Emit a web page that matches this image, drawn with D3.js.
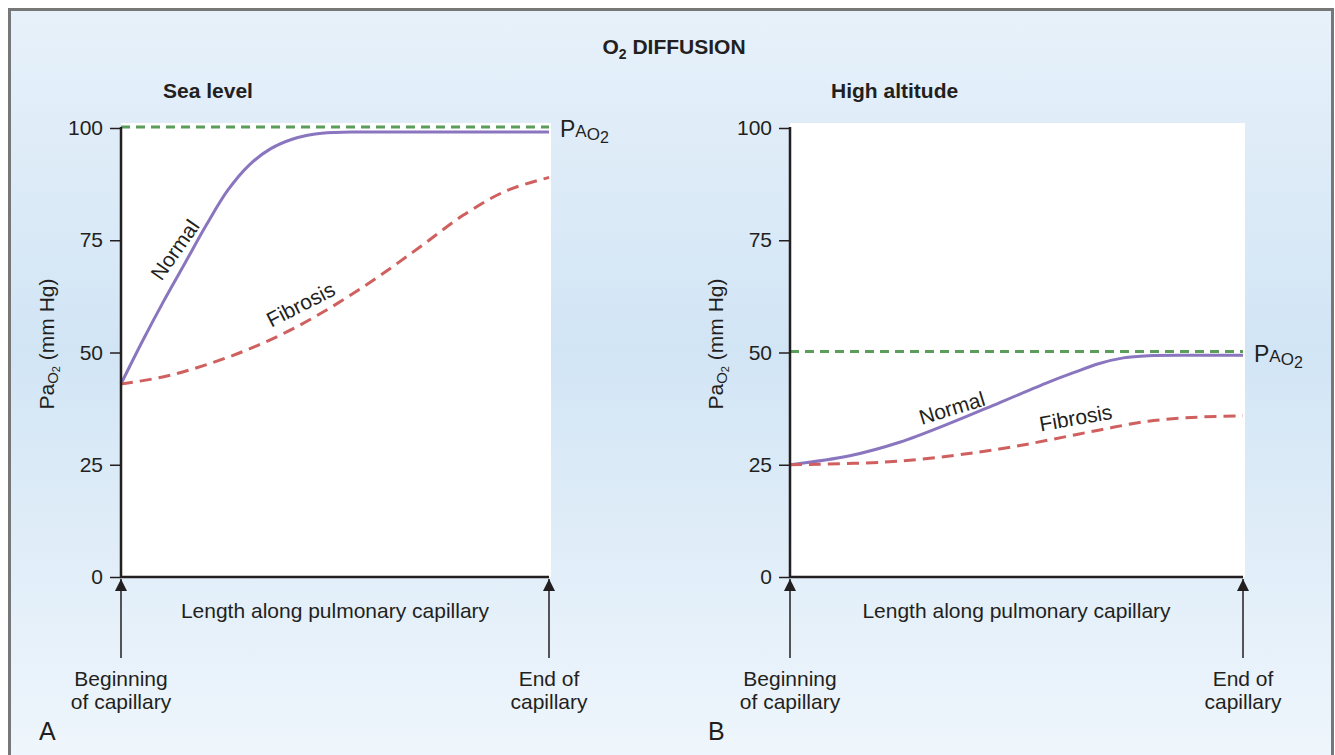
<!DOCTYPE html>
<html><head><meta charset="utf-8">
<script src="https://cdn.jsdelivr.net/npm/d3@7"></script>
<style>body{margin:0;background:#fff}svg{display:block;font-family:"Liberation Sans",Arial,sans-serif}</style>
</head><body>
<svg id="c" width="1335" height="755"></svg>
<script>
const yTicks = [0, 25, 50, 75, 100];
const seaX = [0, 0.05, 0.1, 0.15, 0.2, 0.25, 0.3, 0.35, 0.4, 0.45, 0.5, 0.55, 0.7, 0.85, 1.0];
const seaNormal = [43, 52.5, 61.5, 70, 78.5, 86.2, 91.8, 95.4, 97.5, 98.6, 99.0, 99.1, 99.1, 99.1, 99.1];
const fibX = [0, 0.1, 0.2, 0.3, 0.4, 0.5, 0.6, 0.7, 0.8, 0.9, 1.0];
const seaFibrosis = [43, 44.6, 47.3, 50.8, 55.2, 60.6, 66.8, 73.6, 80.6, 86, 89];
const altX = [0, 0.132, 0.242, 0.352, 0.462, 0.571, 0.626, 0.681, 0.736, 0.791, 0.9, 1.0];
const altNormal = [25, 27, 30, 34.2, 38.8, 43.4, 45.5, 47.5, 48.8, 49.3, 49.4, 49.4];
const altFibX = [0, 0.242, 0.462, 0.571, 0.681, 0.791, 0.9, 1.0];
const altFibrosis = [25, 25.8, 28.5, 30.5, 32.7, 34.7, 35.6, 35.9];
const seaAlveolar = 100, altAlveolar = 50;

const svg = d3.select("#c");
const defs = svg.append("defs");
const g = defs.append("linearGradient").attr("id","bg").attr("x1",0).attr("y1",0).attr("x2",0).attr("y2",1);
g.append("stop").attr("offset","0%").attr("stop-color","#e7f1fa");
g.append("stop").attr("offset","45%").attr("stop-color","#d2e5f5");
g.append("stop").attr("offset","100%").attr("stop-color","#eff6fc");
defs.append("marker").attr("id","arr").attr("viewBox","0 0 10 10").attr("refX",10).attr("refY",5)
  .attr("markerWidth",12).attr("markerHeight",12).attr("markerUnits","userSpaceOnUse").attr("orient","auto")
  .append("path").attr("d","M0,0L10,5L0,10Z").attr("fill","#231f20");

svg.append("rect").attr("x",9.5).attr("y",9.5).attr("width",1323).attr("height",750)
  .attr("fill","url(#bg)").attr("stroke","#777").attr("stroke-width",3);

const FS = 21;
svg.append("text").attr("x",674).attr("y",54).attr("text-anchor","middle").attr("font-weight","bold")
  .attr("font-size",FS).attr("fill","#231f20")
  .call(t=>{t.append("tspan").text("O");t.append("tspan").attr("font-size",14).attr("dy",5).text("2");
    t.append("tspan").attr("dy",-5).text(" DIFFUSION");});

function panel(x0, x1, title, titleX, normalX, normal, fX, fib, alv, letter, labels) {
  const y = d3.scaleLinear().domain([0,100]).range([577,128]);
  const x = d3.scaleLinear().domain([0,1]).range([x0,x1]);
  svg.append("rect").attr("x",x0).attr("y",123).attr("width",x1-x0+2).attr("height",577-123).attr("fill","#fff");
  svg.append("text").attr("x",titleX).attr("y",98).attr("font-weight","bold").attr("font-size",FS).attr("fill","#231f20").text(title);
  const ax = svg.append("g").attr("transform",`translate(${x0},0)`).call(d3.axisLeft(y).tickValues(yTicks).tickSize(11).tickPadding(7));
  ax.select(".domain").remove();
  ax.selectAll("line").attr("stroke","#231f20").attr("stroke-width",1.5);
  ax.selectAll("text").attr("font-size",FS).attr("fill","#231f20").attr("font-family","Liberation Sans, Arial, sans-serif");
  const line = d3.line().curve(d3.curveCatmullRom.alpha(0.5));
  const flat = d3.line();
  svg.append("path").attr("d", flat([[x(0),y(alv)],[x(1),y(alv)]])).attr("stroke","#5b9e5b").attr("stroke-width",3).attr("stroke-dasharray","9,6").attr("fill","none").attr("transform","translate(0,-1)");
  svg.append("path").attr("d", line(normalX.map((v,i)=>[x(v),y(normal[i])]))).attr("stroke","#8a75bf").attr("stroke-width",3).attr("fill","none");
  svg.append("path").attr("d", line(fX.map((v,i)=>[x(v),y(fib[i])]))).attr("stroke","#d0605f").attr("stroke-width",3).attr("stroke-dasharray","12,7").attr("fill","none");
  svg.append("path").attr("d",`M${x0},127V577H${x1}`).attr("stroke","#231f20").attr("stroke-width",2.5).attr("fill","none");
  // PAO2 label
  const pl = svg.append("text").attr("x",x1+11).attr("y",y(alv)+9).attr("font-size",23).attr("fill","#231f20");
  pl.append("tspan").text("P"); pl.append("tspan").attr("font-size",17).text("A");
  pl.append("tspan").attr("font-size",17).attr("dy",3).text("O"); pl.append("tspan").attr("font-size",16).attr("dy",3).text("2");
  // y label
  const yl = svg.append("text").attr("transform",`translate(${x0-67},344) rotate(-90)`).attr("text-anchor","middle").attr("font-size",FS).attr("fill","#231f20");
  yl.append("tspan").text("Pa"); yl.append("tspan").attr("font-size",15).attr("dy",4).text("O");
  yl.append("tspan").attr("font-size",11).attr("dy",2).text("2"); yl.append("tspan").attr("dy",-6).text(" (mm Hg)");
  svg.append("text").attr("x",(x0+x1)/2).attr("y",618).attr("text-anchor","middle").attr("font-size",FS).attr("fill","#231f20").text("Length along pulmonary capillary");
  [[x0,["Beginning","of capillary"]],[x1,["End of","capillary"]]].forEach(([ax0,lines])=>{
    svg.append("line").attr("x1",ax0).attr("x2",ax0).attr("y1",658).attr("y2",579).attr("stroke","#231f20").attr("stroke-width",1.5).attr("marker-end","url(#arr)");
    lines.forEach((s,i)=>svg.append("text").attr("x",ax0).attr("y",686+i*23).attr("text-anchor","middle").attr("font-size",FS).attr("fill","#231f20").text(s));
  });
  svg.append("text").attr("x",x0-82).attr("y",740).attr("font-size",25).attr("fill","#231f20").text(letter);
  labels.forEach(l=>svg.append("text").attr("transform",`translate(${l[0]},${l[1]}) rotate(${l[2]})`).attr("text-anchor","middle").attr("font-size",FS).attr("fill","#231f20").text(l[3]));
}
panel(121, 549, "Sea level", 163, seaX, seaNormal, fibX, seaFibrosis, seaAlveolar, "A",
  [[181,254,-55,"Normal"],[304,311,-27,"Fibrosis"]]);
panel(790, 1243, "High altitude", 831, altX, altNormal, altFibX, altFibrosis, altAlveolar, "B",
  [[954,415,-17,"Normal"],[1077,425,-10,"Fibrosis"]]);
</script>
</body></html>
